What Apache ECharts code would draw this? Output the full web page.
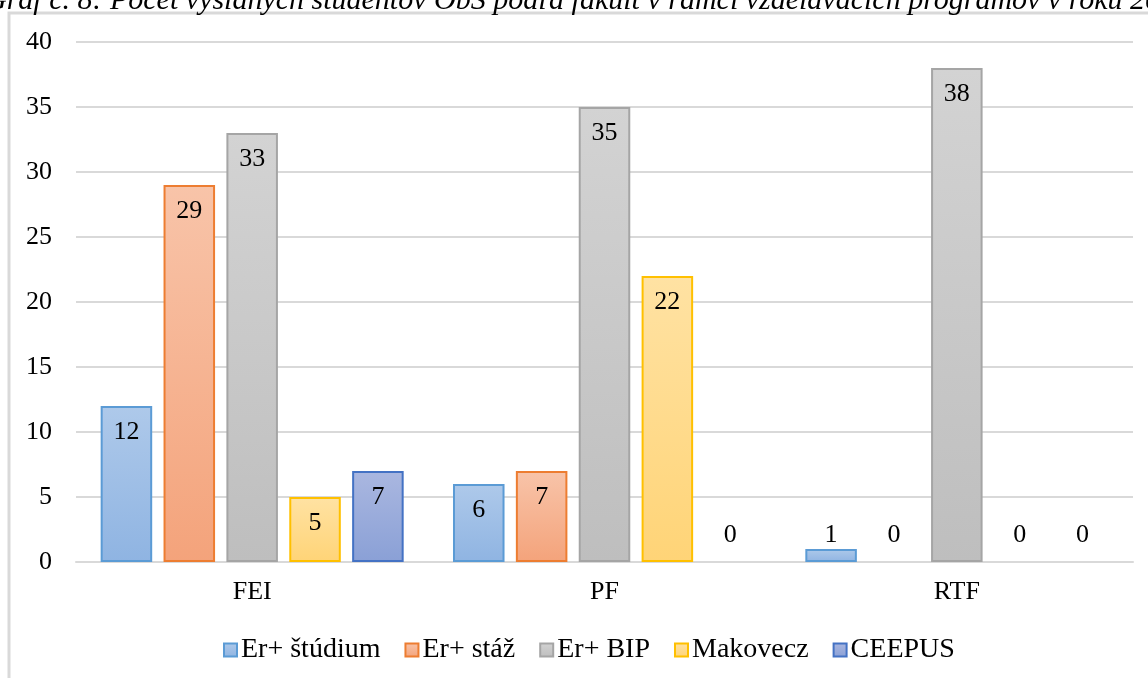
<!DOCTYPE html>
<html>
<head>
<meta charset="utf-8">
<script src="https://cdn.jsdelivr.net/npm/echarts@6/dist/echarts.min.js"></script>
<style>
html,body{margin:0;padding:0;background:#fff;}
#chart{width:1148px;height:678px;}
</style>
</head>
<body>
<div id="chart"></div>
<script>
const titleText = 'Graf č. 8: Počet vyslaných študentov ObS podľa fakúlt v rámci vzdelávacích programov v roku 2023';
const categories = ['FEI', 'PF', 'RTF'];
const seriesNames = ['Er+ štúdium', 'Er+ stáž', 'Er+ BIP', 'Makovecz', 'CEEPUS'];
const erStudium = [12, 6, 1];
const erStaz = [29, 7, 0];
const erBip = [33, 35, 38];
const makovecz = [5, 22, 0];
const ceepus = [7, 0, 0];
const yTicks = [0, 5, 10, 15, 20, 25, 30, 35, 40];

const seriesValues = [erStudium, erStaz, erBip, makovecz, ceepus];
const styles = [
  {top: '#aec9ea', bottom: '#8fb4e2', border: '#5b9bd5'},
  {top: '#f8c4a9', bottom: '#f4a37b', border: '#ed7d31'},
  {top: '#d3d3d3', bottom: '#bebebe', border: '#a5a5a5'},
  {top: '#ffe2a3', bottom: '#ffd477', border: '#ffc000'},
  {top: '#aab7e0', bottom: '#8aa0d6', border: '#4472c4'}
];
const FONT = '"Liberation Serif", "Times New Roman", serif';
const FS = 26;

function grad(s){
  return new echarts.graphic.LinearGradient(0,0,0,1,[{offset:0,color:s.top},{offset:1,color:s.bottom}]);
}

const series = seriesValues.map((vals, i) => ({
  name: seriesNames[i],
  type: 'bar',
  barGap: '22%',
  barCategoryGap: '14%',
  itemStyle: {color: grad(styles[i]), borderColor: styles[i].border, borderWidth: 2},
  label: {
    show: true, position: 'insideTop', distance: 13,
    fontFamily: FONT, fontSize: FS, color: '#000'
  },
  data: vals.map(v => {
    if (v >= 2) return v;
    return {
      value: v,
      itemStyle: v === 0 ? {borderWidth: 0, color: 'rgba(0,0,0,0)'} : {},
      label: {position: 'top', distance: v === 0 ? 14 : 1}
    };
  })
}));

const chart = echarts.init(document.getElementById('chart'));
chart.setOption({
  animation: false,
  backgroundColor: '#fff',
  title: {
    text: titleText, left: -20, top: -19,
    textStyle: {fontFamily: FONT, fontStyle: 'italic', fontWeight: 'normal', fontSize: 30, color: '#000'}
  },
  graphic: [
    {type: 'rect', shape: {x: 9, y: 13, width: 1160, height: 700}, style: {fill: 'none', stroke: '#d9d9d9', lineWidth: 3}, z: -1}
  ],
  grid: {left: 76, right: 15, top: 42, bottom: 116, containLabel: false},
  legend: {
    top: 631, left: 218,
    data: seriesNames,
    itemWidth: 13, itemHeight: 13, itemGap: 24,
    textStyle: {fontFamily: FONT, fontSize: 28, color: '#000', padding: [0,0,0,-1]},
    icon: 'rect'
  },
  xAxis: {
    type: 'category', data: categories,
    axisLine: {lineStyle: {color: '#d9d9d9', width: 2}},
    axisTick: {show: false},
    axisLabel: {fontFamily: FONT, fontSize: FS, color: '#000', margin: 17}
  },
  yAxis: {
    type: 'value', min: yTicks[0], max: yTicks[yTicks.length-1], interval: yTicks[1]-yTicks[0],
    axisLine: {show: false}, axisTick: {show: false},
    splitLine: {lineStyle: {color: '#d9d9d9', width: 2}},
    axisLabel: {fontFamily: FONT, fontSize: FS, color: '#000', margin: 24}
  },
  series: series
});
</script>
</body>
</html>
